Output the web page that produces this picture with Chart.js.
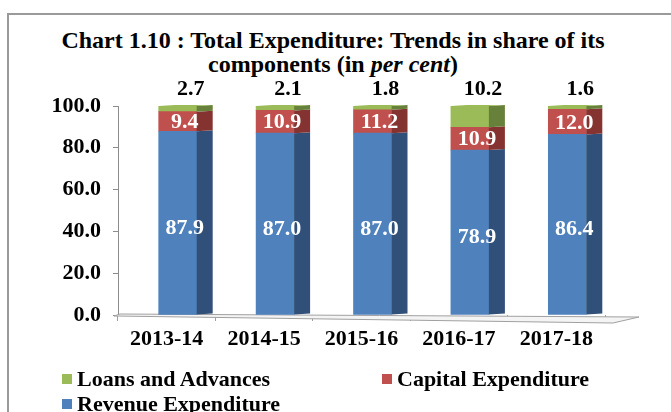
<!DOCTYPE html>
<html>
<head>
<meta charset="utf-8">
<script src="https://cdn.jsdelivr.net/npm/chart.js@4"></script>
<style>
  body { margin: 0; background: #fff; }
  #wrap { position: relative; width: 671px; height: 412px; overflow: hidden; font-family: "Liberation Serif", serif; }
  #frame { position: absolute; left: 7px; top: 13px; width: 700px; height: 450px; border: 2px solid #9a9a9a; }
  #title { position: absolute; left: 0; width: 666px; top: 28px; text-align: center; font-weight: bold; font-size: 24px; line-height: 24px; color: #000; }
  #legend { position: absolute; left: 62px; top: 367px; font-weight: bold; font-size: 22px; color: #000; display: grid; grid-template-columns: 320px 300px; row-gap: 2px; }
  #legend div { display: flex; align-items: center; height: 23px; white-space: nowrap; }
  #legend span.box { width: 10px; height: 10px; margin-right: 5px; display: inline-block; }
  canvas { position: absolute; left: 0; top: 0; }
</style>
</head>
<body>
<div id="wrap">
  <div id="frame"></div>
  <div id="title">Chart 1.10 : Total Expenditure: Trends in share of its<br>components (in <i>per cent</i>)</div>
  <canvas id="chart" width="671" height="412"></canvas>
  <div id="legend"></div>
</div>
<script>
const years = ["2013-14", "2014-15", "2015-16", "2016-17", "2017-18"];
const revenueExp = [87.9, 87.0, 87.0, 78.9, 86.4];
const capitalExp = [9.4, 10.9, 11.2, 10.9, 12.0];
const loansAdv = [2.7, 2.1, 1.8, 10.2, 1.6];

const FONT = "Liberation Serif";
const depth = 16; // width of the 3d side face
const shift = 11; // bars sit a little right of the category centre

// darker shade for the side faces
const sideColors = { "#4F81BD": "#30507a", "#C0504D": "#853331", "#9BBB59": "#67803a" };

const bar3d = {
    id: "bar3d",
    afterDatasetsUpdate(chart) {
        chart.data.datasets.forEach((ds, i) => {
            chart.getDatasetMeta(i).data.forEach((el) => { el.x += shift; });
        });
    },
    beforeDatasetsDraw(chart) {
        // floor of the 3d plot
        const { ctx, chartArea } = chart;
        const b = chart.scales.y.getPixelForValue(0);
        const l = chartArea.left, r = chartArea.right;
        ctx.save();
        ctx.fillStyle = "#f4f4f4";
        ctx.strokeStyle = "#a0a0a0";
        ctx.lineWidth = 1;
        ctx.beginPath();
        ctx.moveTo(l - 4, b + 1);
        ctx.lineTo(r + 8, b + 8);
        ctx.lineTo(r + 34, b + 2);
        ctx.lineTo(l + 2, b - 1);
        ctx.closePath();
        ctx.fill();
        ctx.stroke();
        ctx.restore();
    },
    afterDatasetsDraw(chart) {
        const { ctx } = chart;
        ctx.save();
        const n = chart.data.datasets.length;
        chart.data.datasets.forEach((ds, i) => {
            const side = sideColors[ds.backgroundColor];
            chart.getDatasetMeta(i).data.forEach((el) => {
                const p = el.getProps(["x", "y", "base", "width"], true);
                const xr = p.x + p.width / 2;
                ctx.fillStyle = side;
                ctx.beginPath();
                ctx.moveTo(xr, p.y);
                ctx.lineTo(xr + depth, p.y - 1);
                ctx.lineTo(xr + depth, p.base - 1);
                ctx.lineTo(xr, p.base);
                ctx.closePath();
                ctx.fill();
                if (i === n - 1) {
                    ctx.fillStyle = ds.backgroundColor;
                    ctx.beginPath();
                    ctx.moveTo(p.x - p.width / 2, p.y);
                    ctx.lineTo(p.x - p.width / 2 + depth, p.y - 1);
                    ctx.lineTo(xr + depth, p.y - 1);
                    ctx.lineTo(xr, p.y);
                    ctx.closePath();
                    ctx.fill();
                }
            });
        });

        // value labels
        ctx.font = "bold 22px '" + FONT + "'";
        ctx.textAlign = "center";
        ctx.textBaseline = "middle";
        chart.data.datasets.forEach((ds, i) => {
            chart.getDatasetMeta(i).data.forEach((el, j) => {
                const p = el.getProps(["x", "y", "base"], true);
                const txt = ds.data[j].toFixed(1);
                if (i === n - 1) {
                    ctx.fillStyle = "#000";
                    ctx.fillText(txt, p.x + 13, p.y - 17);
                } else {
                    ctx.fillStyle = "#fff";
                    ctx.fillText(txt, p.x + 7, (p.y + p.base) / 2 + (i === 0 ? 5 : 1));
                }
            });
        });
        ctx.restore();
    },
};

const chart = new Chart("chart", {
    type: "bar",
    data: {
        labels: years,
        datasets: [
            { label: "Revenue Expenditure", data: revenueExp, backgroundColor: "#4F81BD" },
            { label: "Capital Expenditure", data: capitalExp, backgroundColor: "#C0504D" },
            { label: "Loans and Advances", data: loansAdv, backgroundColor: "#9BBB59" },
        ],
    },
    options: {
        responsive: false,
        animation: false,
        datasets: { bar: { barThickness: 38, borderWidth: 0 } },
        layout: { padding: { top: 106, right: 66, left: 0, bottom: 0 } },
        plugins: {
            legend: { display: false },
            title: { display: false },
            tooltip: { enabled: false },
        },
        scales: {
            x: {
                stacked: true,
                afterFit: (s) => { s.height = 97; },
                border: { display: false },
                grid: { drawOnChartArea: false, drawTicks: true, tickLength: 6, color: "#a0a0a0", offset: true },
                ticks: { color: "#000", padding: 5, font: { family: FONT, size: 22, weight: "bold" } },
            },
            y: {
                stacked: true,
                min: 0,
                max: 100,
                afterFit: (s) => { s.width = 118; },
                border: { display: true, color: "#8c8c8c" },
                grid: { drawOnChartArea: false, drawTicks: true, tickLength: 5, color: "#8c8c8c" },
                ticks: {
                    stepSize: 20,
                    color: "#000",
                    padding: 12,
                    font: { family: FONT, size: 22, weight: "bold" },
                    callback: (v) => v.toFixed(1),
                },
            },
        },
    },
    plugins: [bar3d],
});

// legend in the same grid order as the original
const legendEl = document.getElementById("legend");
[2, 1, 0].forEach((i) => {
    const ds = chart.data.datasets[i];
    const item = document.createElement("div");
    item.innerHTML = '<span class="box" style="background:' + ds.backgroundColor + '"></span>' + ds.label;
    legendEl.appendChild(item);
});
</script>
</body>
</html>
